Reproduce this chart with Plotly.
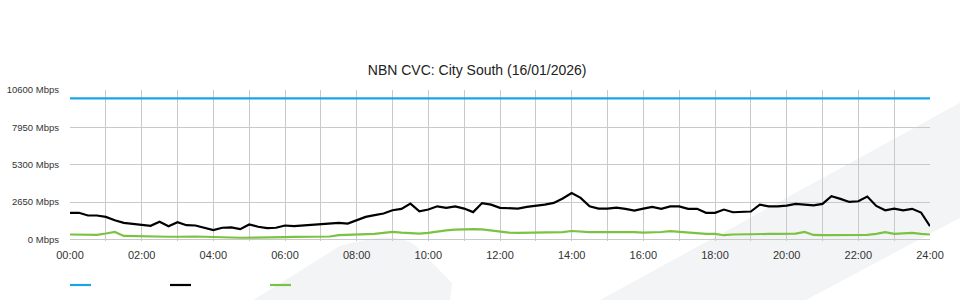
import plotly.graph_objects as go

# ---- data (Mbps, 15-minute samples from 00:00 to 24:00) ----
hours = [i / 4 for i in range(97)]

download = [
    1890, 1890, 1700, 1700, 1600, 1360, 1180, 1110, 1010, 970, 1250, 940,
    1220, 1010, 990, 830, 660, 830, 850, 730, 1060, 900, 800, 830,
    990, 940, 990, 1010, 1060, 1130, 1180, 1130, 1360, 1600, 1720, 1840,
    2070, 2170, 2540, 2000, 2120, 2350, 2240, 2350, 2190, 1940, 2580, 2470,
    2240, 2190, 2190, 2310, 2380, 2470, 2590, 2900, 3290, 2950, 2350, 2190,
    2190, 2260, 2170, 2050, 2190, 2310, 2170, 2350, 2350, 2170, 2170, 1890,
    1890, 2120, 1930, 1980, 1980, 2470, 2350, 2350, 2400, 2520, 2470, 2420,
    2520, 3070, 2880, 2660, 2710, 3040, 2380, 2070, 2190, 2070, 2170, 1910,
    940,
]

upload = [
    350, 350, 300, 330, 420, 530, 250, 230, 230, 210, 210, 190,
    190, 210, 210, 190, 190, 180, 140, 120, 120, 140, 160, 160,
    160, 180, 180, 180, 190, 210, 300, 320, 320, 350, 390, 460,
    540, 490, 450, 420, 470, 570, 640, 690, 730, 730, 710, 640,
    540, 490, 470, 470, 470, 470, 520, 520, 600, 540, 520, 520,
    530, 520, 520, 520, 490, 490, 530, 590, 530, 520, 420, 400,
    400, 300, 350, 370, 400, 400, 390, 400, 390, 420, 540, 320,
    300, 300, 300, 300, 350, 330, 390, 520, 390, 420, 460, 390,
    350,
]

capacity_hours = [0, 24]
capacity = [10000, 10000]

y_ticks = [0, 2650, 5300, 7950, 10600]
y_labels = ["0 Mbps", "2650 Mbps", "5300 Mbps", "7950 Mbps", "10600 Mbps"]
x_ticks = list(range(25))
x_labels = [f"{h:02d}:00" if h % 2 == 0 else "" for h in x_ticks]

title = "NBN CVC: City South (16/01/2026)"

assert len(download) == len(hours) == len(upload)

BLUE = "#1ca5e6"
BLACK = "#000000"
GREEN = "#7cc242"
GRID = "#c9c9c9"
WM = "#f3f4f6"

fig = go.Figure()
fig.add_trace(go.Scatter(x=capacity_hours, y=capacity, mode="lines",
                         line=dict(color=BLUE, width=2.2), showlegend=False))
fig.add_trace(go.Scatter(x=hours, y=upload, mode="lines",
                         line=dict(color=GREEN, width=2.2), showlegend=False))
fig.add_trace(go.Scatter(x=hours, y=download, mode="lines",
                         line=dict(color=BLACK, width=2.2), showlegend=False))

L, R, T, B = 70, 30, 90, 59
W, H = 960, 300
pw, ph = W - L - R, H - T - B


def px(x):
    return (x - L) / pw


def py(y):
    return (H - B - y) / ph


shapes = []
# background watermark (decorative)
shapes.append(dict(type="path", xref="paper", yref="paper", layer="below",
                   path=f"M {px(600)},{py(300)} L {px(965)},{py(100)} L {px(965)},{py(215)} L {px(806)},{py(300)} Z",
                   fillcolor=WM, line=dict(width=0)))
shapes.append(dict(type="path", xref="paper", yref="paper", layer="below",
                   path=(f"M {px(253)},{py(300)} L {px(340)},{py(246)} "
                         f"Q {px(398)},{py(228)} {px(418)},{py(248)} "
                         f"L {px(452)},{py(283)} L {px(450)},{py(300)} Z"),
                   fillcolor=WM, line=dict(width=0)))
# legend swatches
for x0, c in [(70, BLUE), (170, BLACK), (270, GREEN)]:
    shapes.append(dict(type="line", xref="paper", yref="paper",
                       x0=px(x0), x1=px(x0 + 21), y0=py(285), y1=py(285),
                       line=dict(color=c, width=2.2)))

fig.update_layout(
    width=W, height=H,
    margin=dict(l=L, r=R, t=T, b=B, autoexpand=False),
    paper_bgcolor="white",
    plot_bgcolor="rgba(0,0,0,0)",
    font=dict(family="Liberation Sans, Arial, sans-serif", size=11, color="#333333"),
    title=dict(text=title, x=0.497, xanchor="center", y=1 - 70 / H, yanchor="middle",
               font=dict(size=14, color="#222222")),
    shapes=shapes,
    showlegend=False,
    xaxis=dict(range=[0, 24], tickvals=x_ticks, ticktext=x_labels,
               showgrid=True, gridcolor=GRID, gridwidth=1, zeroline=False,
               showline=False, ticks="", ticklabelstandoff=6, automargin=False,
               tickfont=dict(size=11, color="#333333")),
    yaxis=dict(range=[-110, 10600], tickvals=y_ticks, ticktext=y_labels,
               showgrid=True, gridcolor=GRID, gridwidth=1, zeroline=False,
               showline=False, ticks="", ticklabelstandoff=10, automargin=False,
               tickfont=dict(size=9.5, color="#333333")),
)

fig.write_html("out.html")
